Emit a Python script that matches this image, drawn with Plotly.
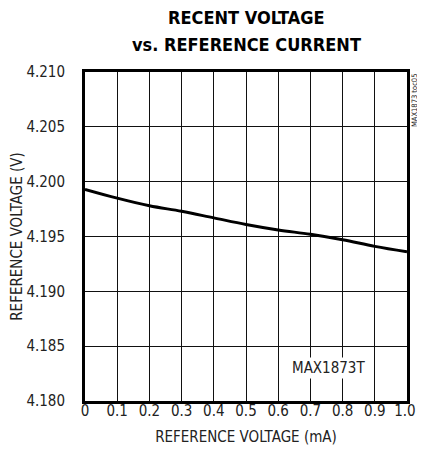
import plotly.graph_objects as go

current_ma = [0.0, 0.1, 0.2, 0.3, 0.4, 0.5, 0.6, 0.7, 0.8, 0.9, 1.0]
ref_voltage = [4.1993, 4.1985, 4.1978, 4.1973, 4.1967, 4.1961, 4.1956, 4.1952, 4.1947, 4.1941, 4.1936]

x_tickvals = [0, 0.1, 0.2, 0.3, 0.4, 0.5, 0.6, 0.7, 0.8, 0.9, 1.0]
x_ticktext = ["0", "0.1", "0.2", "0.3", "0.4", "0.5", "0.6", "0.7", "0.8", "0.9", "1.0\u00a0"]
y_tickvals = [4.180, 4.185, 4.190, 4.195, 4.200, 4.205, 4.210]
y_ticktext = ["4.180", "4.185", "4.190", "4.195", "4.200", "4.205", "4.210"]

FONT = "DejaVu Sans Condensed, Liberation Sans Narrow, Roboto Condensed, sans-serif"

def f(size, color="#222", weight="normal"):
    return dict(family=FONT, size=size, color=color, weight=weight)

fig = go.Figure()
fig.add_trace(go.Scatter(x=current_ma, y=ref_voltage, mode="lines",
                         line=dict(color="black", width=3, shape="spline"),
                         showlegend=False, hoverinfo="skip"))

# page has an 8px body margin, so the figure is drawn 8px in from the top-left
fig.update_layout(
    width=417, height=440,
    margin=dict(l=77, r=18, t=64, b=47, autoexpand=False),
    paper_bgcolor="white", plot_bgcolor="white",
    font=f(15),
    xaxis=dict(range=[0, 1], tickvals=x_tickvals, ticktext=x_ticktext,
               showgrid=True, gridcolor="#111", gridwidth=1,
               showline=True, linecolor="black", linewidth=3, mirror=True,
               ticks="", zeroline=False, ticklabelstandoff=-6, automargin=False,
               tickfont=f(15),
               title=dict(text="REFERENCE VOLTAGE (mA)", standoff=13, font=f(15))),
    yaxis=dict(range=[4.180, 4.210], tickvals=y_tickvals, ticktext=y_ticktext,
               showgrid=True, gridcolor="#111", gridwidth=1,
               showline=True, linecolor="black", linewidth=3, mirror=True,
               ticks="", zeroline=False, ticklabelstandoff=14, automargin=False,
               tickfont=f(15),
               title=dict(text="REFERENCE VOLTAGE (V)", standoff=11, font=f(15))),
    annotations=[
        dict(text="<b>RECENT VOLTAGE</b>", x=0.5, y=1.166, xref="paper", yref="paper",
             yanchor="middle", showarrow=False, font=f(18, "black", "bold")),
        dict(text="<b>vs. REFERENCE CURRENT</b>", x=0.5, y=1.083, xref="paper", yref="paper",
             yanchor="middle", showarrow=False, font=f(18, "black", "bold")),
        dict(text="MAX1873T", x=0.755, y=4.1830, xref="x", yref="y",
             showarrow=False, bgcolor="white", borderpad=1, font=f(15)),
        dict(text="MAX1873 toc05", x=1.0, y=1.0, xref="paper", yref="paper",
             xanchor="left", yanchor="top", xshift=1, textangle=-90,
             showarrow=False, font=f(7.5)),
    ],
)

fig.write_html("out.html")
